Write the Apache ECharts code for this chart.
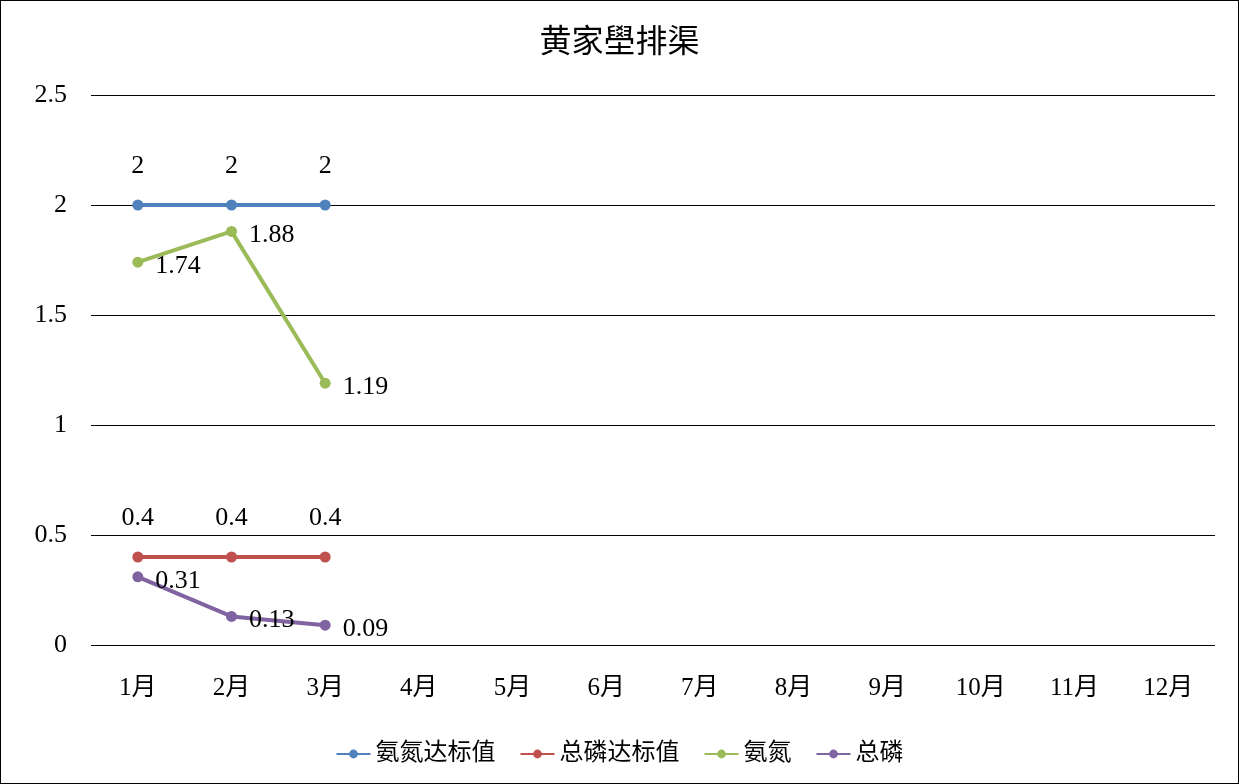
<!DOCTYPE html>
<html>
<head>
<meta charset="utf-8">
<script src="https://cdn.jsdelivr.net/npm/echarts@6/dist/echarts.min.js"></script>
<style>
    body { margin: 0; background: #fff; }
    #chart { width: 1237px; height: 782px; border: 1px solid #000; }
</style>
</head>
<body>
<div id="chart"></div>
<script>
let months = ['1月', '2月', '3月', '4月', '5月', '6月', '7月', '8月', '9月', '10月', '11月', '12月'];
let nhStandard = [2, 2, 2];
let pStandard = [0.4, 0.4, 0.4];
let nhValues = [1.74, 1.88, 1.19];
let pValues = [0.31, 0.13, 0.09];
let yTicks = [0, 0.5, 1, 1.5, 2, 2.5];

let font = "'Liberation Serif', 'Noto Sans CJK SC', serif";

function makeSeries(name, data, color, labelPos) {
    return {
        name: name,
        type: 'line',
        data: data,
        symbol: 'circle',
        symbolSize: 11,
        itemStyle: {color: color},
        lineStyle: {color: color, width: 4},
        label: {
            show: true,
            position: labelPos,
            distance: labelPos === 'top' ? 20 : 12,
            color: '#000',
            fontSize: 26,
            fontFamily: font,
            offset: labelPos === 'top' ? [0, 0] : [0, 4]
        }
    };
}

let eChart = echarts.init(document.getElementById('chart'));

let option = {
    backgroundColor: '#fff',
    animation: false,
    textStyle: {fontFamily: font},
    title: {
        text: '黄家壆排渠',
        left: 'center',
        top: 22,
        textStyle: {fontSize: 32, fontWeight: 'normal', color: '#000', fontFamily: font}
    },
    legend: {
        bottom: 12,
        left: 'center',
        itemWidth: 34,
        itemHeight: 11,
        itemGap: 24,
        textStyle: {fontSize: 24, color: '#000', fontFamily: font},
        data: ['氨氮达标值', '总磷达标值', '氨氮', '总磷']
    },
    grid: {
        left: 90,
        right: 23,
        top: 94,
        bottom: 138
    },
    xAxis: {
        type: 'category',
        data: months,
        boundaryGap: true,
        axisLine: {show: false},
        axisTick: {show: false},
        axisLabel: {fontSize: 25, color: '#000', margin: 31, fontFamily: font}
    },
    yAxis: {
        type: 'value',
        min: yTicks[0],
        max: yTicks[yTicks.length - 1],
        interval: 0.5,
        axisLine: {show: false},
        axisTick: {show: false},
        axisLabel: {fontSize: 26, color: '#000', margin: 24, fontFamily: font},
        splitLine: {show: true, lineStyle: {color: '#000', width: 1}}
    },
    series: [
        makeSeries('氨氮达标值', nhStandard, '#4F81BD', 'top'),
        makeSeries('总磷达标值', pStandard, '#C0504D', 'top'),
        makeSeries('氨氮', nhValues, '#9BBB59', 'right'),
        makeSeries('总磷', pValues, '#8064A2', 'right')
    ]
};

eChart.setOption(option);
</script>
</body>
</html>
